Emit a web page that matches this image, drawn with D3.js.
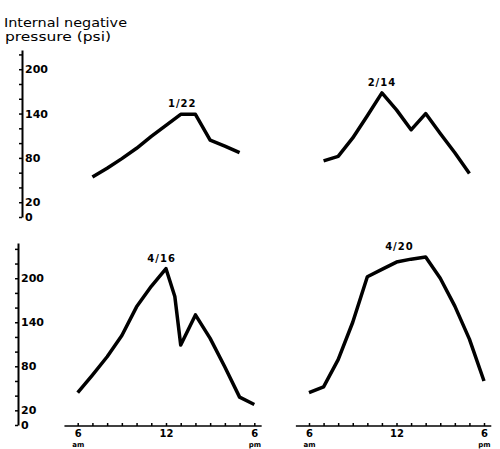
<!DOCTYPE html>
<html>
<head>
<meta charset="utf-8">
<script src="https://cdn.jsdelivr.net/npm/d3@7"></script>
<style>
  body { margin: 0; background: #fff; }
  svg { display: block; }
  .axis path, .axis line { stroke: #000; }
  .axis text { font-family: "DejaVu Sans", sans-serif; font-weight: bold; fill: #000; }
</style>
</head>
<body>
<div id="chart"></div>
<script>
// readings per day: hour of day (24h) and internal negative pressure (psi)
const dates = ['1/22', '2/14', '4/16', '4/20'];

const hours122 = [7, 8, 9, 10, 11, 12, 13, 14, 15, 16, 17];
const psi122   = [54, 66, 79, 93, 109, 124, 139, 139, 104, 96, 87];

const hours214 = [7, 8, 9, 10, 11, 12, 13, 14, 15, 16, 17];
const psi214   = [76, 82, 107, 137, 168, 145, 118, 140, 113, 87, 59];

const hours416 = [6, 7, 8, 9, 10, 11, 12, 12.6, 13, 14, 15, 16, 17, 18];
const psi416   = [44, 68, 93, 122, 161, 189, 213, 175, 109, 150, 118, 79, 38, 28];

const hours420 = [6, 7, 8, 9, 10, 11, 12, 13, 14, 15, 16, 17, 18];
const psi420   = [44, 52, 89, 140, 202, 212, 222, 226, 229, 200, 162, 117, 60];

// where the date label sits (hour) for each day
const labelHours = [13.1, 11, 11.7, 12.2];

const yTicks = [0, 20, 40, 60, 80, 100, 120, 140, 160, 180, 200, 220, 240];
const yLabels = [0, 20, 80, 140, 200];
const xTicks = [6, 7, 8, 9, 10, 11, 12, 13, 14, 15, 16, 17, 18];
const xLabels = { 6: ['6', 'am'], 12: ['12'], 18: ['6', 'pm'] };

const width = 500, height = 449;

const svg = d3.select('#chart').append('svg')
  .attr('width', width)
  .attr('height', height);

svg.append('rect').attr('width', width).attr('height', height).attr('fill', '#fff');

// title, two lines
svg.append('text')
  .attr('x', 4).attr('y', 27)
  .attr('font-family', '"DejaVu Sans", sans-serif')
  .attr('font-size', 13)
  .attr('textLength', 123).attr('lengthAdjust', 'spacingAndGlyphs')
  .text('Internal negative');
svg.append('text')
  .attr('x', 5).attr('y', 41)
  .attr('font-family', '"DejaVu Sans", sans-serif')
  .attr('font-size', 13)
  .attr('textLength', 106).attr('lengthAdjust', 'spacingAndGlyphs')
  .text('pressure (psi)');

// scales
const xLeft = d3.scaleLinear().domain([6, 18]).range([77.7, 254.3]);
const xRight = d3.scaleLinear().domain([6, 18]).range([309, 484]);
const yTop = d3.scaleLinear().domain([0, 226]).range([217, 50]);
const yBottom = d3.scaleLinear().domain([0, 248]).range([425, 243]);

function yAxis(scale, x, maxTick) {
  const axis = d3.axisRight(scale)
    .tickValues(yTicks.filter(t => t <= maxTick))
    .tickSizeInner(-3)
    .tickSizeOuter(0)
    .tickPadding(3)
    .tickFormat(d => yLabels.includes(d) ? d : '');
  const g = svg.append('g')
    .attr('class', 'axis')
    .attr('transform', `translate(${x},0)`)
    .call(axis);
  g.select('.domain').attr('stroke-width', 2);
  g.selectAll('.tick line').attr('stroke-width', 1.5);
  g.selectAll('.tick text').attr('font-size', 11);
}

yAxis(yTop, 22, 220);
yAxis(yBottom, 18, 240);

function xAxis(scale) {
  const axis = d3.axisBottom(scale)
    .tickValues(xTicks)
    .tickSizeInner(-3)
    .tickSizeOuter(0)
    .tickPadding(4)
    .tickFormat('');
  const g = svg.append('g')
    .attr('class', 'axis')
    .attr('transform', 'translate(0,426)')
    .call(axis);
  g.select('.domain').remove();
  g.append('line')
    .attr('x1', scale(5.1)).attr('x2', scale(18.5))
    .attr('stroke', '#000').attr('stroke-width', 1.5);
  g.selectAll('.tick line').attr('stroke-width', 1.5);

  // hand-lettered labels: number with am/pm underneath
  g.selectAll('.tick').each(function(d) {
    const lab = xLabels[d];
    if (!lab) return;
    const t = d3.select(this).select('text')
      .attr('y', 0).attr('dy', null).text(null);
    t.append('tspan').attr('x', 0).attr('y', 11)
      .attr('font-size', 10).text(lab[0]);
    if (lab[1]) {
      t.append('tspan').attr('x', 0).attr('y', 21)
        .attr('font-size', 7).text(lab[1]);
    }
  });
}

xAxis(xLeft);
xAxis(xRight);

// curves
const panels = [
  { hours: hours122, psi: psi122, x: xLeft, y: yTop },
  { hours: hours214, psi: psi214, x: xRight, y: yTop },
  { hours: hours416, psi: psi416, x: xLeft, y: yBottom },
  { hours: hours420, psi: psi420, x: xRight, y: yBottom },
];

panels.forEach((p, i) => {
  const pts = p.hours.map((h, j) => [h, p.psi[j]]);
  const line = d3.line()
    .x(d => p.x(d[0]))
    .y(d => p.y(d[1]));

  svg.append('path')
    .datum(pts)
    .attr('d', line)
    .attr('fill', 'none')
    .attr('stroke', '#000')
    .attr('stroke-width', 3.5)
    .attr('stroke-linejoin', 'round')
    .attr('stroke-linecap', 'butt');

  const peak = d3.max(p.psi);
  svg.append('text')
    .attr('x', p.x(labelHours[i]))
    .attr('y', p.y(peak) - 7)
    .attr('text-anchor', 'middle')
    .attr('font-family', '"DejaVu Sans", sans-serif')
    .attr('font-weight', 'bold')
    .attr('font-size', 10)
    .attr('letter-spacing', 1)
    .text(dates[i]);
});
</script>
</body>
</html>
